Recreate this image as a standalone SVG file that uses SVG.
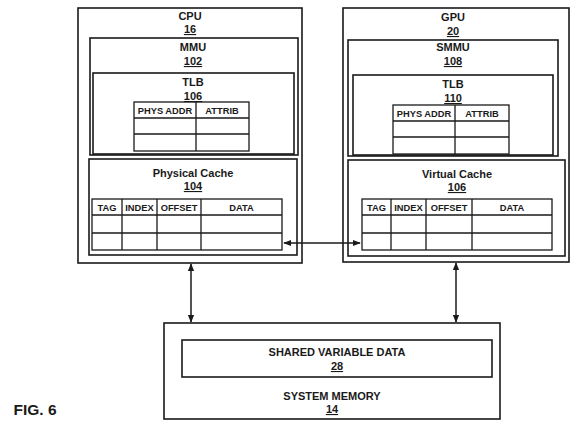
<svg xmlns="http://www.w3.org/2000/svg" width="576" height="429" viewBox="0 0 576 429">
<style>
.b{fill:none;stroke:#1a1a1a;stroke-width:1.6}
.t{stroke:#1a1a1a;stroke-width:1.3;fill:none}
text{font-family:"Liberation Sans",Arial,sans-serif;font-weight:bold;fill:#1a1a1a;text-anchor:middle}
.l{font-size:11px}
.n{font-size:11px;text-decoration:underline}
.h{font-size:9.3px}
.c{stroke:#1a1a1a;stroke-width:1.5;fill:none}
</style>
<defs>
<marker id="a" viewBox="0 0 10 10" refX="9" refY="5" markerWidth="8" markerHeight="8" orient="auto-start-reverse" markerUnits="userSpaceOnUse">
<path d="M0,1 L10,5 L0,9 z" fill="#1a1a1a"/>
</marker>
</defs>
<rect width="576" height="429" fill="#fff"/>
<g id="cpu">
<rect class="b" x="78" y="8" width="224" height="255"/>
<text class="l" x="190" y="20">CPU</text>
<text class="n" x="190" y="33">16</text>
</g>
<g id="mmu">
<rect class="b" x="90" y="38" width="208" height="117"/>
<text class="l" x="193" y="51">MMU</text>
<text class="n" x="193" y="65">102</text>
</g>
<g id="tlb106">
<rect class="b" x="93" y="73" width="201" height="81"/>
<text class="l" x="193" y="86">TLB</text>
<text class="n" x="193" y="100">106</text>
<rect class="t" x="134" y="102" width="115" height="49"/>
<path class="t" d="M134,118H249M134,134H249M196,102V151"/>
<text class="h" x="165" y="113.5">PHYS ADDR</text>
<text class="h" x="222" y="113.5">ATTRIB</text>
</g>
<g id="physcache">
<rect class="b" x="89" y="159" width="208" height="96"/>
<text class="l" x="193" y="177">Physical Cache</text>
<text class="n" x="193" y="190">104</text>
<rect class="t" x="92" y="199" width="190" height="51"/>
<path class="t" d="M92,215H282M92,233H282M122,199V250M157,199V250M201,199V250"/>
<text class="h" x="107" y="210.5">TAG</text>
<text class="h" x="139.5" y="210.5">INDEX</text>
<text class="h" x="179" y="210.5">OFFSET</text>
<text class="h" x="241.5" y="210.5">DATA</text>
</g>
<g id="gpu">
<rect class="b" x="343" y="8" width="226" height="254"/>
<text class="l" x="453" y="21">GPU</text>
<text class="n" x="453" y="35">20</text>
</g>
<g id="smmu">
<rect class="b" x="348" y="40" width="210" height="116"/>
<text class="l" x="453" y="51">SMMU</text>
<text class="n" x="453" y="65">108</text>
</g>
<g id="tlb110">
<rect class="b" x="353" y="75" width="200" height="80"/>
<text class="l" x="453" y="88">TLB</text>
<text class="n" x="453" y="102">110</text>
<rect class="t" x="393" y="105" width="116" height="49"/>
<path class="t" d="M393,121H509M393,137H509M455,105V154"/>
<text class="h" x="424" y="116.5">PHYS ADDR</text>
<text class="h" x="482" y="116.5">ATTRIB</text>
</g>
<g id="virtcache">
<rect class="b" x="348" y="160" width="217" height="96"/>
<text class="l" x="457" y="178">Virtual Cache</text>
<text class="n" x="457" y="191">106</text>
<rect class="t" x="362" y="199" width="190" height="51"/>
<path class="t" d="M362,215H552M362,233H552M391,199V250M426,199V250M472,199V250"/>
<text class="h" x="376.5" y="210.5">TAG</text>
<text class="h" x="408.5" y="210.5">INDEX</text>
<text class="h" x="449" y="210.5">OFFSET</text>
<text class="h" x="512" y="210.5">DATA</text>
</g>
<g id="sysmem">
<rect class="b" x="164" y="323" width="336" height="96"/>
<text class="l" x="332" y="400">SYSTEM MEMORY</text>
<text class="n" x="332" y="413">14</text>
</g>
<g id="shared">
<rect class="b" x="182" y="340" width="310" height="37"/>
<text class="l" x="337" y="356">SHARED VARIABLE DATA</text>
<text class="n" x="337" y="370">28</text>
</g>
<g id="connectors">
<line class="c" x1="284" y1="243" x2="360" y2="243" marker-start="url(#a)" marker-end="url(#a)"/>
<line class="c" x1="191" y1="264" x2="191" y2="322" marker-start="url(#a)" marker-end="url(#a)"/>
<line class="c" x1="456" y1="263" x2="456" y2="322" marker-start="url(#a)" marker-end="url(#a)"/>
</g>
<text x="35" y="415" style="font-size:15.5px">FIG. 6</text>
</svg>
